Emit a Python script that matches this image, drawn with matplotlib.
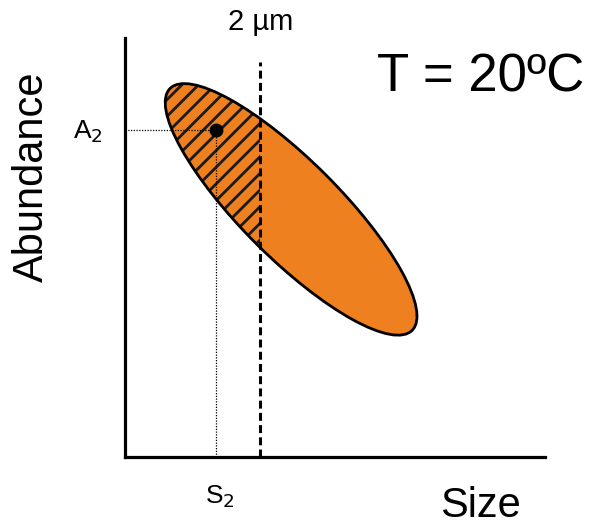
import matplotlib
matplotlib.use("Agg")
import matplotlib.pyplot as plt
from matplotlib.patches import Ellipse, Rectangle

plt.rcParams['font.family'] = ['Liberation Sans', 'DejaVu Sans']
plt.rcParams['hatch.linewidth'] = 2.0

# schematic values (size in um, abundance in arbitrary units)
xmax, ymax = 6.22, 6.21
cloud_center = (2.46, 3.67)
cloud_len, cloud_wid, cloud_angle = 5.07, 1.45, -45
threshold = 2.0
threshold_top = 5.85
S2, A2 = 1.35, 4.84

W, H = 592, 530
fig = plt.figure(figsize=(W / 100, H / 100), dpi=100)
ax = fig.add_axes([125 / W, (H - 457) / H, 420 / W, 419 / H])
ax.set_xlim(0, xmax)
ax.set_ylim(0, ymax)
for s in ['top', 'right']:
    ax.spines[s].set_visible(False)
for s in ['left', 'bottom']:
    ax.spines[s].set_linewidth(2.3)
ax.set_xticks([])
ax.set_yticks([])

# orange cloud
ax.add_patch(Ellipse(cloud_center, cloud_len, cloud_wid, angle=cloud_angle,
                     facecolor='#EF8020', edgecolor='none', zorder=2))
# hatched part below threshold
hatched = Ellipse(cloud_center, cloud_len, cloud_wid, angle=cloud_angle,
                  facecolor='none', edgecolor='#1a1a1a', hatch='//', lw=0, zorder=3)
ax.add_patch(hatched)
clip = Rectangle((0, 0), threshold, ymax, transform=ax.transData)
hatched.set_clip_path(clip)
# outline
ax.add_patch(Ellipse(cloud_center, cloud_len, cloud_wid, angle=cloud_angle,
                     facecolor='none', edgecolor='black', lw=2.0, zorder=4))

# threshold line
ax.plot([threshold, threshold], [0, threshold_top], color='black', lw=2.2,
        linestyle=(0, (2.6, 1.4)), zorder=5, clip_on=False)
# guide lines to the point
ax.plot([0, S2], [A2, A2], color='black', lw=0.9, linestyle=(0, (1, 1.2)), zorder=5)
ax.plot([S2, S2], [0, A2], color='black', lw=0.9, linestyle=(0, (1, 1.2)), zorder=5)
ax.plot([S2], [A2], 'o', color='black', ms=9, zorder=6)

fs = 30
fig.text(32 / W, 1 - 177 / H, 'Abundance', rotation=90, ha='center', va='center', fontsize=fs)
fig.text(480 / W, 1 - 506 / H, 'Size', ha='center', va='center', fontsize=fs)
fig.text(481 / W, 1 - 78 / H, 'T = 20ºC', ha='center', va='center', fontsize=38)
fig.text(261 / W, 1 - 22 / H, '2 µm', ha='center', va='center', fontsize=21)
fig.text(88 / W, 1 - 132 / H, 'A$_2$', ha='center', va='center', fontsize=19)
fig.text(220 / W, 1 - 497 / H, 'S$_2$', ha='center', va='center', fontsize=19)

fig.savefig('out.png', dpi=100)
